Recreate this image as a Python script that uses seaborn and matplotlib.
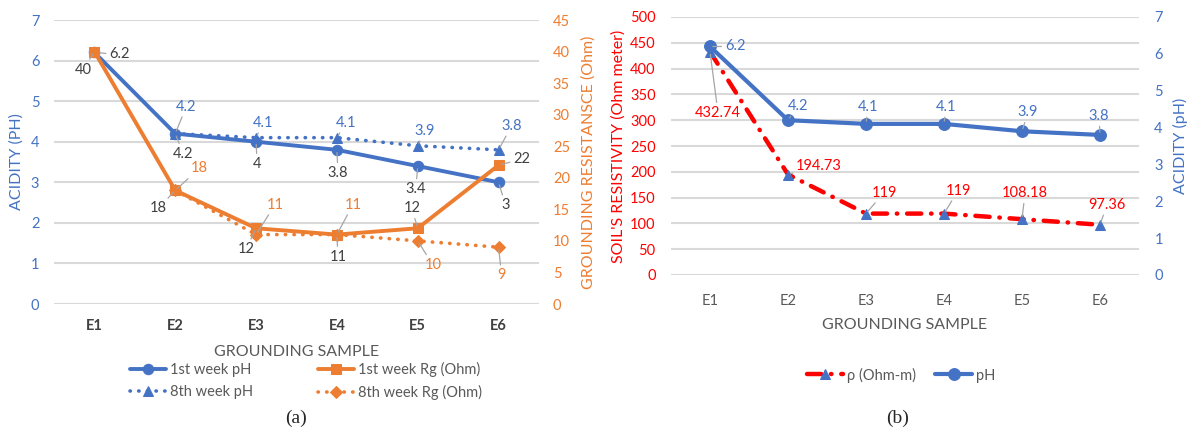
import numpy as np
import matplotlib
matplotlib.use("Agg")
import matplotlib.pyplot as plt
import seaborn as sns

samples = ["E1", "E2", "E3", "E4", "E5", "E6"]

# panel (a)
ph_week1 = [6.2, 4.2, 4.0, 3.8, 3.4, 3.0]
ph_week8 = [np.nan, 4.2, 4.1, 4.1, 3.9, 3.8]
rg_week1 = [40, 18, 12, 11, 12, 22]
rg_week8 = [np.nan, 18, 11, 11, 10, 9]

# panel (b)
rho = [432.74, 194.73, 119, 119, 108.18, 97.36]
ph_b = [6.2, 4.2, 4.1, 4.1, 3.9, 3.8]

# label offsets (pixels, x right / y up)
off_ph1 = [(25, -2), (8, -20), (1, -22), (1, -23), (-2, -23), (7, -23)]
off_rg1 = [(-11, -18), (-17, -18), (-10, -21), (1, -22), (-6, 20), (23, 6)]
off_ph8 = [None, (11, 27), (7, 15), (9, 15), (7, 15), (13, 24)]
off_rg8 = [None, (24, 22), (19, 30), (16, 30), (15, -24), (3, -28)]
off_rho = [(8, -61), (31, 9), (18, 21), (14, 23), (3, 26), (7, 20)]
off_phb = [(25, 0), (10, 14), (2, 17), (2, 17), (6, 19), (-1, 19)]

BLUE = "#4472C4"
ORANGE = "#ED7D31"
RED = "#FF0000"
DARK = "#404040"
GRAY = "#595959"
GRID = "#D9D9D9"

sns.set_style("white")
plt.rcParams["font.family"] = ["Lato", "DejaVu Sans"]

W, H = 1190, 432
fig = plt.figure(figsize=(W / 100, H / 100), dpi=100)


def draw(ax, values, color, marker, ls, lw, ms, label, mcolor=None):
    mcolor = mcolor or color
    sns.lineplot(x=samples, y=values, ax=ax, color=color, marker=marker,
                 markersize=ms, markerfacecolor=mcolor, markeredgecolor=mcolor,
                 linewidth=lw, legend=False)
    line = ax.lines[-1]
    line.set_linestyle(ls)
    line.set_dash_capstyle("round")
    line.set_label(label)
    return line


def labels(ax, values, offsets, color):
    for i, (v, o) in enumerate(zip(values, offsets)):
        if o is None or np.isnan(v):
            continue
        ax.annotate(f"{v:g}", xy=(i, v), xytext=o, textcoords="offset pixels",
                    ha="center", va="center", fontsize=10.5, color=color,
                    arrowprops=dict(arrowstyle="-", color="#A6A6A6", lw=0.9,
                                    shrinkA=0, shrinkB=2))


def style_axes(ax, ax2):
    for a in (ax, ax2):
        for s in a.spines.values():
            s.set_visible(False)
        a.tick_params(length=0)
    ax.grid(axis="y", color=GRID, lw=1.5)
    ax.set_axisbelow(True)
    ax2.grid(False)
    ax.set_xlim(-0.5, 5.5)


# ---------- (a) ----------
ax = fig.add_axes([54 / W, 1 - 304 / H, 485 / W, 284 / H])
ax2 = ax.twinx()
style_axes(ax, ax2)

h1 = draw(ax, ph_week1, BLUE, "o", "-", 2.8, 7.5, "1st week pH")
h2 = draw(ax, ph_week8, BLUE, "^", (0, (0.1, 2.3)), 2.6, 7.5, "8th week pH")
h3 = draw(ax2, rg_week1, ORANGE, "s", "-", 2.8, 7.5, "1st week Rg (Ohm)")
h4 = draw(ax2, rg_week8, ORANGE, "D", (0, (0.1, 2.3)), 2.6, 6, "8th week Rg (Ohm)")

ax.set_ylim(0, 7)
ax.set_yticks(range(0, 8))
ax2.set_ylim(0, 45)
ax2.set_yticks(range(0, 50, 5))
ax.tick_params(axis="y", colors=BLUE, labelsize=10.5, pad=10.5)
ax2.tick_params(axis="y", colors=ORANGE, labelsize=10.5, pad=10)
ax.tick_params(axis="x", colors=DARK, labelsize=10.5, pad=11)
for t in ax.get_xticklabels():
    t.set_fontweight("bold")

ax.set_ylabel("ACIDITY (PH)", color=BLUE, fontsize=11.5)
ax.yaxis.set_label_coords(-0.063, 0.5)
ax2.set_ylabel("GROUNDING RESISTANSCE (Ohm)", color=ORANGE, fontsize=11.5)
ax2.yaxis.set_label_coords(1.088, 0.5)
ax.set_xlabel("GROUNDING SAMPLE", color=GRAY, fontsize=11.5)
ax.xaxis.set_label_coords(0.5, -0.144)

labels(ax, ph_week1, off_ph1, DARK)
labels(ax, ph_week8, off_ph8, BLUE)
labels(ax2, rg_week1, off_rg1, DARK)
labels(ax2, rg_week8, off_rg8, ORANGE)

fig.legend(handles=[h1, h2, h3, h4], loc="center", ncol=2,
           bbox_to_anchor=(306 / W, 1 - 381 / H), frameon=False,
           fontsize=10.5, handlelength=2.5, columnspacing=4.4,
           labelcolor=GRAY, handletextpad=0.3, labelspacing=0.55)

# ---------- (b) ----------
bx = fig.add_axes([671 / W, 1 - 275 / H, 468 / W, 258 / H])
bx2 = bx.twinx()
style_axes(bx, bx2)

g1 = draw(bx, rho, RED, "^", (0, (3.2, 2.2, 0.1, 2.2)), 3.2, 7.5, "ρ (Ohm-m)", mcolor=BLUE)
g2 = draw(bx2, ph_b, BLUE, "o", "-", 3.0, 8.5, "pH")

bx.set_ylim(0, 500)
bx.set_yticks(range(0, 550, 50))
bx2.set_ylim(0, 7)
bx2.set_yticks(range(0, 8))
bx.tick_params(axis="y", colors=RED, labelsize=10.5, pad=11)
bx2.tick_params(axis="y", colors=BLUE, labelsize=10.5, pad=11)
bx.tick_params(axis="x", colors=GRAY, labelsize=10.5, pad=14)

bx.set_ylabel("SOIL'S RESISTIVITY (Ohm meter)", color=RED, fontsize=11.5)
bx.yaxis.set_label_coords(-0.097, 0.5)
bx2.set_ylabel("ACIDITY (pH)", color=BLUE, fontsize=11.5)
bx2.yaxis.set_label_coords(1.072, 0.5)
bx.set_xlabel("GROUNDING SAMPLE", color=GRAY, fontsize=11.5)
bx.xaxis.set_label_coords(0.5, -0.167)

labels(bx, rho, off_rho, RED)
labels(bx2, ph_b, off_phb, BLUE)

fig.legend(handles=[g1, g2], loc="center", ncol=2,
           bbox_to_anchor=(901 / W, 1 - 375 / H), frameon=False,
           fontsize=10.5, handlelength=2.5, columnspacing=1.3,
           labelcolor=GRAY, handletextpad=0.3)

fig.text(296 / W, 1 - 418 / H, "(a)", ha="center", va="center",
         fontsize=14, family="Liberation Serif")
fig.text(898 / W, 1 - 418 / H, "(b)", ha="center", va="center",
         fontsize=14, family="Liberation Serif")

fig.savefig("out.png", dpi=100)
